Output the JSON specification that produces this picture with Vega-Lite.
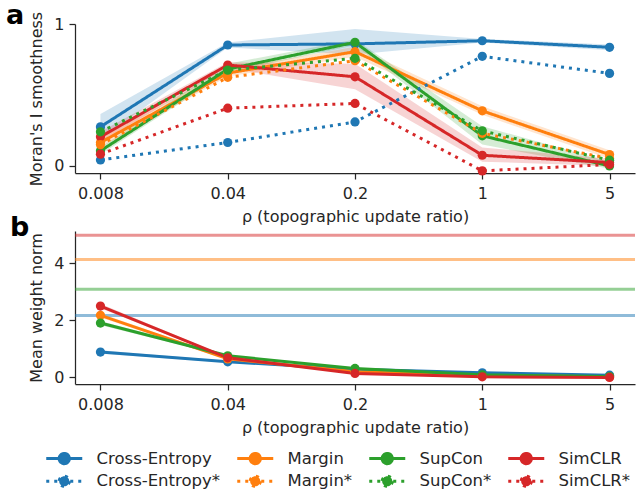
{
  "$schema": "https://vega.github.io/schema/vega-lite/v6.json",
  "autosize": {"type": "none"},
  "padding": {"left": 75, "top": 24, "right": 567, "bottom": 469},
  "bounds": "flush",
  "spacing": 58,
  "background": "white",
  "datasets": {
    "moran": [
      {"rho": "0.008", "series": "Cross-Entropy", "v": 0.275, "lo": 0.19, "hi": 0.365},
      {"rho": "0.04", "series": "Cross-Entropy", "v": 0.852, "lo": 0.835, "hi": 0.87},
      {"rho": "0.2", "series": "Cross-Entropy", "v": 0.86, "lo": 0.785, "hi": 0.965},
      {"rho": "1", "series": "Cross-Entropy", "v": 0.882, "lo": 0.87, "hi": 0.895},
      {"rho": "5", "series": "Cross-Entropy", "v": 0.836, "lo": 0.815, "hi": 0.855},
      {"rho": "0.008", "series": "Margin", "v": 0.165, "lo": 0.13, "hi": 0.2},
      {"rho": "0.04", "series": "Margin", "v": 0.654, "lo": 0.63, "hi": 0.68},
      {"rho": "0.2", "series": "Margin", "v": 0.805, "lo": 0.77, "hi": 0.84},
      {"rho": "1", "series": "Margin", "v": 0.388, "lo": 0.36, "hi": 0.42},
      {"rho": "5", "series": "Margin", "v": 0.08, "lo": 0.05, "hi": 0.11},
      {"rho": "0.008", "series": "SupCon", "v": 0.106, "lo": 0.08, "hi": 0.13},
      {"rho": "0.04", "series": "SupCon", "v": 0.682, "lo": 0.66, "hi": 0.72},
      {"rho": "0.2", "series": "SupCon", "v": 0.871, "lo": 0.85, "hi": 0.89},
      {"rho": "1", "series": "SupCon", "v": 0.212, "lo": 0.15, "hi": 0.28},
      {"rho": "5", "series": "SupCon", "v": 0.0, "lo": -0.02, "hi": 0.03},
      {"rho": "0.008", "series": "SimCLR", "v": 0.205, "lo": 0.17, "hi": 0.24},
      {"rho": "0.04", "series": "SimCLR", "v": 0.711, "lo": 0.69, "hi": 0.73},
      {"rho": "0.2", "series": "SimCLR", "v": 0.628, "lo": 0.54, "hi": 0.72},
      {"rho": "1", "series": "SimCLR", "v": 0.075, "lo": 0.03, "hi": 0.13},
      {"rho": "5", "series": "SimCLR", "v": 0.024, "lo": 0.0, "hi": 0.05},
      {"rho": "0.008", "series": "Cross-Entropy*", "v": 0.042},
      {"rho": "0.04", "series": "Cross-Entropy*", "v": 0.165},
      {"rho": "0.2", "series": "Cross-Entropy*", "v": 0.31},
      {"rho": "1", "series": "Cross-Entropy*", "v": 0.772},
      {"rho": "5", "series": "Cross-Entropy*", "v": 0.652},
      {"rho": "0.008", "series": "Margin*", "v": 0.15},
      {"rho": "0.04", "series": "Margin*", "v": 0.624},
      {"rho": "0.2", "series": "Margin*", "v": 0.741},
      {"rho": "1", "series": "Margin*", "v": 0.23},
      {"rho": "5", "series": "Margin*", "v": 0.052},
      {"rho": "0.008", "series": "SupCon*", "v": 0.24},
      {"rho": "0.04", "series": "SupCon*", "v": 0.675},
      {"rho": "0.2", "series": "SupCon*", "v": 0.758},
      {"rho": "1", "series": "SupCon*", "v": 0.247},
      {"rho": "5", "series": "SupCon*", "v": 0.04},
      {"rho": "0.008", "series": "SimCLR*", "v": 0.083},
      {"rho": "0.04", "series": "SimCLR*", "v": 0.407},
      {"rho": "0.2", "series": "SimCLR*", "v": 0.44},
      {"rho": "1", "series": "SimCLR*", "v": -0.035},
      {"rho": "5", "series": "SimCLR*", "v": 0.01}
    ],
    "norm": [
      {"rho": "0.008", "series": "Cross-Entropy", "v": 0.888, "lo": 0.83, "hi": 0.95},
      {"rho": "0.04", "series": "Cross-Entropy", "v": 0.547, "lo": 0.52, "hi": 0.58},
      {"rho": "0.2", "series": "Cross-Entropy", "v": 0.29, "lo": 0.27, "hi": 0.31},
      {"rho": "1", "series": "Cross-Entropy", "v": 0.16, "lo": 0.14, "hi": 0.18},
      {"rho": "5", "series": "Cross-Entropy", "v": 0.08, "lo": 0.06, "hi": 0.1},
      {"rho": "0.008", "series": "Margin", "v": 2.175, "lo": 2.1, "hi": 2.25},
      {"rho": "0.04", "series": "Margin", "v": 0.65, "lo": 0.62, "hi": 0.68},
      {"rho": "0.2", "series": "Margin", "v": 0.2, "lo": 0.18, "hi": 0.22},
      {"rho": "1", "series": "Margin", "v": 0.07, "lo": 0.06, "hi": 0.08},
      {"rho": "5", "series": "Margin", "v": 0.02, "lo": 0.01, "hi": 0.03},
      {"rho": "0.008", "series": "SupCon", "v": 1.905, "lo": 1.83, "hi": 1.98},
      {"rho": "0.04", "series": "SupCon", "v": 0.758, "lo": 0.73, "hi": 0.79},
      {"rho": "0.2", "series": "SupCon", "v": 0.315, "lo": 0.3, "hi": 0.33},
      {"rho": "1", "series": "SupCon", "v": 0.09, "lo": 0.08, "hi": 0.1},
      {"rho": "5", "series": "SupCon", "v": 0.03, "lo": 0.02, "hi": 0.04},
      {"rho": "0.008", "series": "SimCLR", "v": 2.5, "lo": 2.42, "hi": 2.58},
      {"rho": "0.04", "series": "SimCLR", "v": 0.688, "lo": 0.66, "hi": 0.72},
      {"rho": "0.2", "series": "SimCLR", "v": 0.14, "lo": 0.12, "hi": 0.16},
      {"rho": "1", "series": "SimCLR", "v": 0.02, "lo": 0.01, "hi": 0.03},
      {"rho": "5", "series": "SimCLR", "v": 0.0, "lo": -0.01, "hi": 0.01}
    ],
    "ref": [
      {"series": "Cross-Entropy", "v": 2.17},
      {"series": "Margin", "v": 4.13},
      {"series": "SupCon", "v": 3.09},
      {"series": "SimCLR", "v": 4.98}
    ]
  },
  "config": {
    "font": "DejaVu Sans",
    "view": {"stroke": null},
    "axis": {
      "grid": false,
      "domainColor": "#262626",
      "domainWidth": 1.25,
      "tickColor": "#262626",
      "tickWidth": 1.25,
      "tickSize": 6,
      "labelColor": "#262626",
      "titleColor": "#262626",
      "labelFontSize": 16,
      "titleFontSize": 16,
      "titleFontWeight": "normal",
      "labelPadding": 5
    },
    "axisX": {"labelAngle": 0, "titlePadding": 7, "labelPadding": 6},
    "axisY": {"titlePadding": 9},
    "legend": {"rowPadding": 0},
    "title": {"fontSize": 27, "fontWeight": "bold", "color": "black", "anchor": "start", "frame": "group", "baseline": "alphabetic"}
  },
  "resolve": {"scale": {"color": "shared", "strokeDash": "shared"}},
  "vconcat": [
    {
      "width": 560,
      "height": 149,
      "title": {"text": "a", "dx": -69, "offset": -21},
      "data": {"name": "moran"},
      "layer": [
        {
          "transform": [{"filter": "isValid(datum.lo)"}],
          "mark": {"type": "area", "opacity": 0.2},
          "encoding": {
            "x": {"field": "rho", "type": "ordinal"},
            "y": {"field": "lo", "type": "quantitative"},
            "y2": {"field": "hi"},
            "color": {"field": "series", "type": "nominal"}
          }
        },
        {
          "mark": {"type": "line", "strokeWidth": 3, "point": {"filled": true, "size": 85}},
          "encoding": {
            "x": {
              "field": "rho",
              "type": "ordinal",
              "sort": ["0.008", "0.04", "0.2", "1", "5"],
              "scale": {"type": "point", "padding": 0.2},
              "title": "ρ (topographic update ratio)"
            },
            "y": {
              "field": "v",
              "type": "quantitative",
              "scale": {"domain": [-0.05, 1], "nice": false, "zero": false},
              "axis": {"values": [0, 1], "format": "d", "title": "Moran's I  smoothness"}
            },
            "color": {
              "field": "series",
              "type": "nominal",
              "scale": {
                "domain": ["Cross-Entropy", "Margin", "SupCon", "SimCLR", "Cross-Entropy*", "Margin*", "SupCon*", "SimCLR*"],
                "range": ["#1f77b4", "#ff7f0e", "#2ca02c", "#d62728", "#1f77b4", "#ff7f0e", "#2ca02c", "#d62728"]
              },
              "legend": {
                "title": null,
                "orient": "none",
                "legendX": -19,
                "legendY": 426,
                "direction": "horizontal",
                "columns": 4,
                "columnPadding": 10,
                "rowPadding": 0,
                "labelFontSize": 16.5,
                "labelColor": "#262626",
                "labelOffset": 24,
                "symbolType": "M0.85,0A0.85,0.85,0,1,1,-0.85,0A0.85,0.85,0,1,1,0.85,0ZM-3,0L3,0",
                "symbolSize": 144,
                "symbolStrokeWidth": 3,
                "encode": {
                  "symbols": {
                    "update": {
                      "fill": {"scale": "color", "field": "value"},
                      "stroke": {"scale": "color", "field": "value"},
                      "strokeDash": {"signal": "indexof(datum.value, '*') >= 0 ? [32.1, 2, 3, 5, 3, 5, 3, 5, 3, 5, 3, 5, 3, 5, 3, 5] : [1, 0]"},
                      "opacity": {"value": 1}
                    }
                  }
                }
              }
            },
            "strokeDash": {
              "field": "series",
              "type": "nominal",
              "scale": {
                "domain": ["Cross-Entropy", "Margin", "SupCon", "SimCLR", "Cross-Entropy*", "Margin*", "SupCon*", "SimCLR*"],
                "range": [[1, 0], [1, 0], [1, 0], [1, 0], [3, 5], [3, 5], [3, 5], [3, 5]]
              },
              "legend": null
            }
          }
        }
      ]
    },
    {
      "width": 560,
      "height": 153,
      "title": {"text": "b", "dx": -65, "offset": -11},
      "layer": [
        {
          "data": {"name": "ref"},
          "mark": {"type": "rule", "strokeWidth": 3, "opacity": 0.5},
          "encoding": {
            "y": {"field": "v", "type": "quantitative"},
            "color": {"field": "series", "type": "nominal"}
          }
        },
        {
          "data": {"name": "norm"},
          "mark": {"type": "area", "opacity": 0.2},
          "encoding": {
            "x": {"field": "rho", "type": "ordinal"},
            "y": {"field": "lo", "type": "quantitative"},
            "y2": {"field": "hi"},
            "color": {"field": "series", "type": "nominal"}
          }
        },
        {
          "data": {"name": "norm"},
          "mark": {"type": "line", "strokeWidth": 3, "point": {"filled": true, "size": 85}},
          "encoding": {
            "x": {
              "field": "rho",
              "type": "ordinal",
              "sort": ["0.008", "0.04", "0.2", "1", "5"],
              "scale": {"type": "point", "padding": 0.2},
              "title": "ρ (topographic update ratio)"
            },
            "y": {
              "field": "v",
              "type": "quantitative",
              "scale": {"domain": [-0.23, 5.13], "nice": false, "zero": false},
              "axis": {"values": [0, 2, 4], "format": "d", "title": "Mean weight norm"}
            },
            "color": {"field": "series", "type": "nominal"}
          }
        }
      ]
    }
  ]
}
